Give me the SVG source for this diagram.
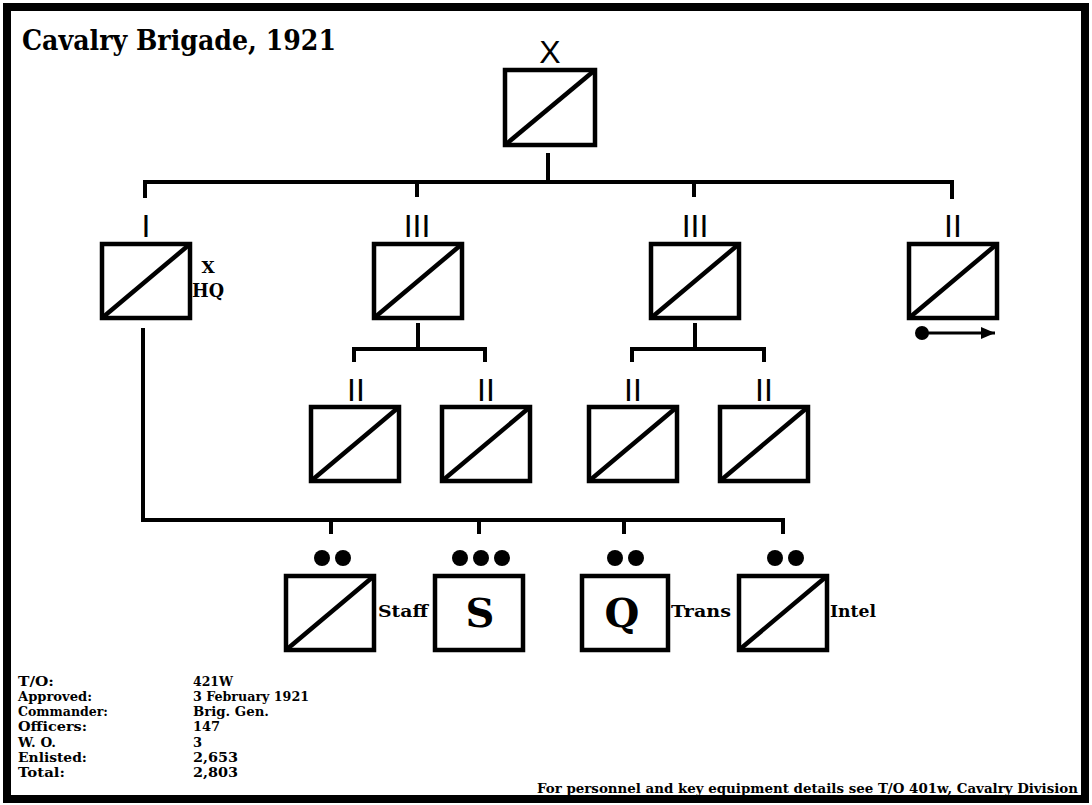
<svg xmlns="http://www.w3.org/2000/svg" width="1092" height="805" viewBox="0 0 1092 805">
<style>
.box{fill:#fff;stroke:#000;stroke-width:4.5}
.diag{stroke:#000;stroke-width:4.5}
.con{fill:none;stroke:#000;stroke-width:4}
.ech{font-family:"Liberation Sans",Arial,sans-serif;font-size:32px;fill:#000;text-anchor:middle}
.lbl{font-family:"DejaVu Serif","Liberation Serif",serif;font-weight:bold;fill:#000}
.info{font-family:"DejaVu Serif","Liberation Serif",serif;font-weight:bold;font-size:13px;fill:#000}
.dot{fill:#000}
</style>
<defs>
<marker id="ah" viewBox="0 0 14 12" refX="14" refY="6" markerWidth="14" markerHeight="12" orient="auto" markerUnits="userSpaceOnUse">
<path d="M0,0 L14,6 L0,12 z" fill="#000"/>
</marker>
</defs>
<rect x="0" y="0" width="1092" height="805" fill="#fff"/>
<rect x="7" y="7" width="1078" height="792" fill="none" stroke="#000" stroke-width="8"/>
<text x="22" y="50" class="lbl" font-size="28" textLength="314" lengthAdjust="spacingAndGlyphs">Cavalry Brigade, 1921</text>

<g id="connectors">
<path class="con" d="M548,153 V182"/>
<path class="con" d="M145,198 V182 H952 V199"/>
<path class="con" d="M417,182 V197"/>
<path class="con" d="M694,182 V197"/>
<path class="con" d="M418,323 V349"/>
<path class="con" d="M354,362 V349 H485 V362"/>
<path class="con" d="M695,323 V349"/>
<path class="con" d="M632,362 V349 H764 V362"/>
<path class="con" d="M143,328 V520 H783 V534"/>
<path class="con" d="M331,520 V534"/>
<path class="con" d="M479,520 V534"/>
<path class="con" d="M624,520 V534"/>
</g>

<g id="brigade">
<text x="550" y="63" class="ech" font-size="29">X</text>
<rect class="box" x="505" y="70" width="90" height="75"/>
<line class="diag" x1="505" y1="145" x2="595" y2="70"/>
</g>

<g id="hq">
<text x="146" y="237" class="ech">I</text>
<rect class="box" x="102" y="244" width="88" height="74"/>
<line class="diag" x1="102" y1="318" x2="190" y2="244"/>
<text x="208" y="273" class="lbl" font-size="17" text-anchor="middle">X</text>
<text x="192" y="297" class="lbl" font-size="18" textLength="32" lengthAdjust="spacingAndGlyphs">HQ</text>
</g>

<g id="regiment1">
<text x="417" y="237" class="ech">III</text>
<rect class="box" x="374" y="244" width="88" height="74"/>
<line class="diag" x1="374" y1="318" x2="462" y2="244"/>
</g>

<g id="regiment2">
<text x="695" y="237" class="ech">III</text>
<rect class="box" x="651" y="244" width="88" height="74"/>
<line class="diag" x1="651" y1="318" x2="739" y2="244"/>
</g>

<g id="battalion-mobile">
<text x="953" y="237" class="ech">II</text>
<rect class="box" x="909" y="244" width="88" height="74"/>
<line class="diag" x1="909" y1="318" x2="997" y2="244"/>
<circle class="dot" cx="922" cy="333" r="7"/>
<line x1="922" y1="333" x2="995" y2="333" stroke="#000" stroke-width="3" marker-end="url(#ah)"/>
</g>

<g id="squadron1">
<text x="356" y="401" class="ech">II</text>
<rect class="box" x="311" y="407" width="88" height="74"/>
<line class="diag" x1="311" y1="481" x2="399" y2="407"/>
</g>
<g id="squadron2">
<text x="486" y="401" class="ech">II</text>
<rect class="box" x="442" y="407" width="88" height="74"/>
<line class="diag" x1="442" y1="481" x2="530" y2="407"/>
</g>
<g id="squadron3">
<text x="633" y="401" class="ech">II</text>
<rect class="box" x="589" y="407" width="88" height="74"/>
<line class="diag" x1="589" y1="481" x2="677" y2="407"/>
</g>
<g id="squadron4">
<text x="764" y="401" class="ech">II</text>
<rect class="box" x="720" y="407" width="88" height="74"/>
<line class="diag" x1="720" y1="481" x2="808" y2="407"/>
</g>

<g id="staff">
<circle class="dot" cx="322" cy="558" r="8"/>
<circle class="dot" cx="343" cy="558" r="8"/>
<rect class="box" x="286" y="576" width="88" height="74"/>
<line class="diag" x1="286" y1="650" x2="374" y2="576"/>
<text x="378" y="617" class="lbl" font-size="16" textLength="50" lengthAdjust="spacingAndGlyphs">Staff</text>
</g>

<g id="signal">
<circle class="dot" cx="460" cy="558" r="8"/>
<circle class="dot" cx="481" cy="558" r="8"/>
<circle class="dot" cx="502" cy="558" r="8"/>
<rect class="box" x="435" y="576" width="88" height="74"/>
<text x="480" y="627" class="lbl" font-size="40" text-anchor="middle">S</text>
</g>

<g id="quartermaster">
<circle class="dot" cx="615" cy="558" r="8"/>
<circle class="dot" cx="636" cy="558" r="8"/>
<rect class="box" x="582" y="576" width="86" height="74"/>
<text x="622" y="627" class="lbl" font-size="40" text-anchor="middle">Q</text>
<text x="671" y="617" class="lbl" font-size="16" textLength="60" lengthAdjust="spacingAndGlyphs">Trans</text>
</g>

<g id="intel">
<circle class="dot" cx="775" cy="558" r="8"/>
<circle class="dot" cx="796" cy="558" r="8"/>
<rect class="box" x="739" y="576" width="88" height="74"/>
<line class="diag" x1="739" y1="650" x2="827" y2="576"/>
<text x="830" y="617" class="lbl" font-size="16" textLength="46" lengthAdjust="spacingAndGlyphs">Intel</text>
</g>

<g id="info">
<text x="18" y="686" class="info" textLength="36" lengthAdjust="spacingAndGlyphs">T/O:</text>
<text x="18" y="701" class="info" textLength="74" lengthAdjust="spacingAndGlyphs">Approved:</text>
<text x="18" y="716" class="info" textLength="90" lengthAdjust="spacingAndGlyphs">Commander:</text>
<text x="18" y="731" class="info" textLength="69" lengthAdjust="spacingAndGlyphs">Officers:</text>
<text x="18" y="747" class="info" textLength="38" lengthAdjust="spacingAndGlyphs">W. O.</text>
<text x="18" y="762" class="info" textLength="69" lengthAdjust="spacingAndGlyphs">Enlisted:</text>
<text x="18" y="777" class="info" textLength="47" lengthAdjust="spacingAndGlyphs">Total:</text>
<text x="193" y="686" class="info" textLength="40" lengthAdjust="spacingAndGlyphs">421W</text>
<text x="193" y="701" class="info" textLength="116" lengthAdjust="spacingAndGlyphs">3 February 1921</text>
<text x="193" y="716" class="info" textLength="76" lengthAdjust="spacingAndGlyphs">Brig. Gen.</text>
<text x="193" y="731" class="info">147</text>
<text x="193" y="747" class="info">3</text>
<text x="193" y="762" class="info" textLength="45" lengthAdjust="spacingAndGlyphs">2,653</text>
<text x="193" y="777" class="info" textLength="45" lengthAdjust="spacingAndGlyphs">2,803</text>
</g>
<text x="537" y="793" class="info" font-size="14" textLength="541" lengthAdjust="spacingAndGlyphs">For personnel and key equipment details see T/O 401w, Cavalry Division</text>
</svg>
